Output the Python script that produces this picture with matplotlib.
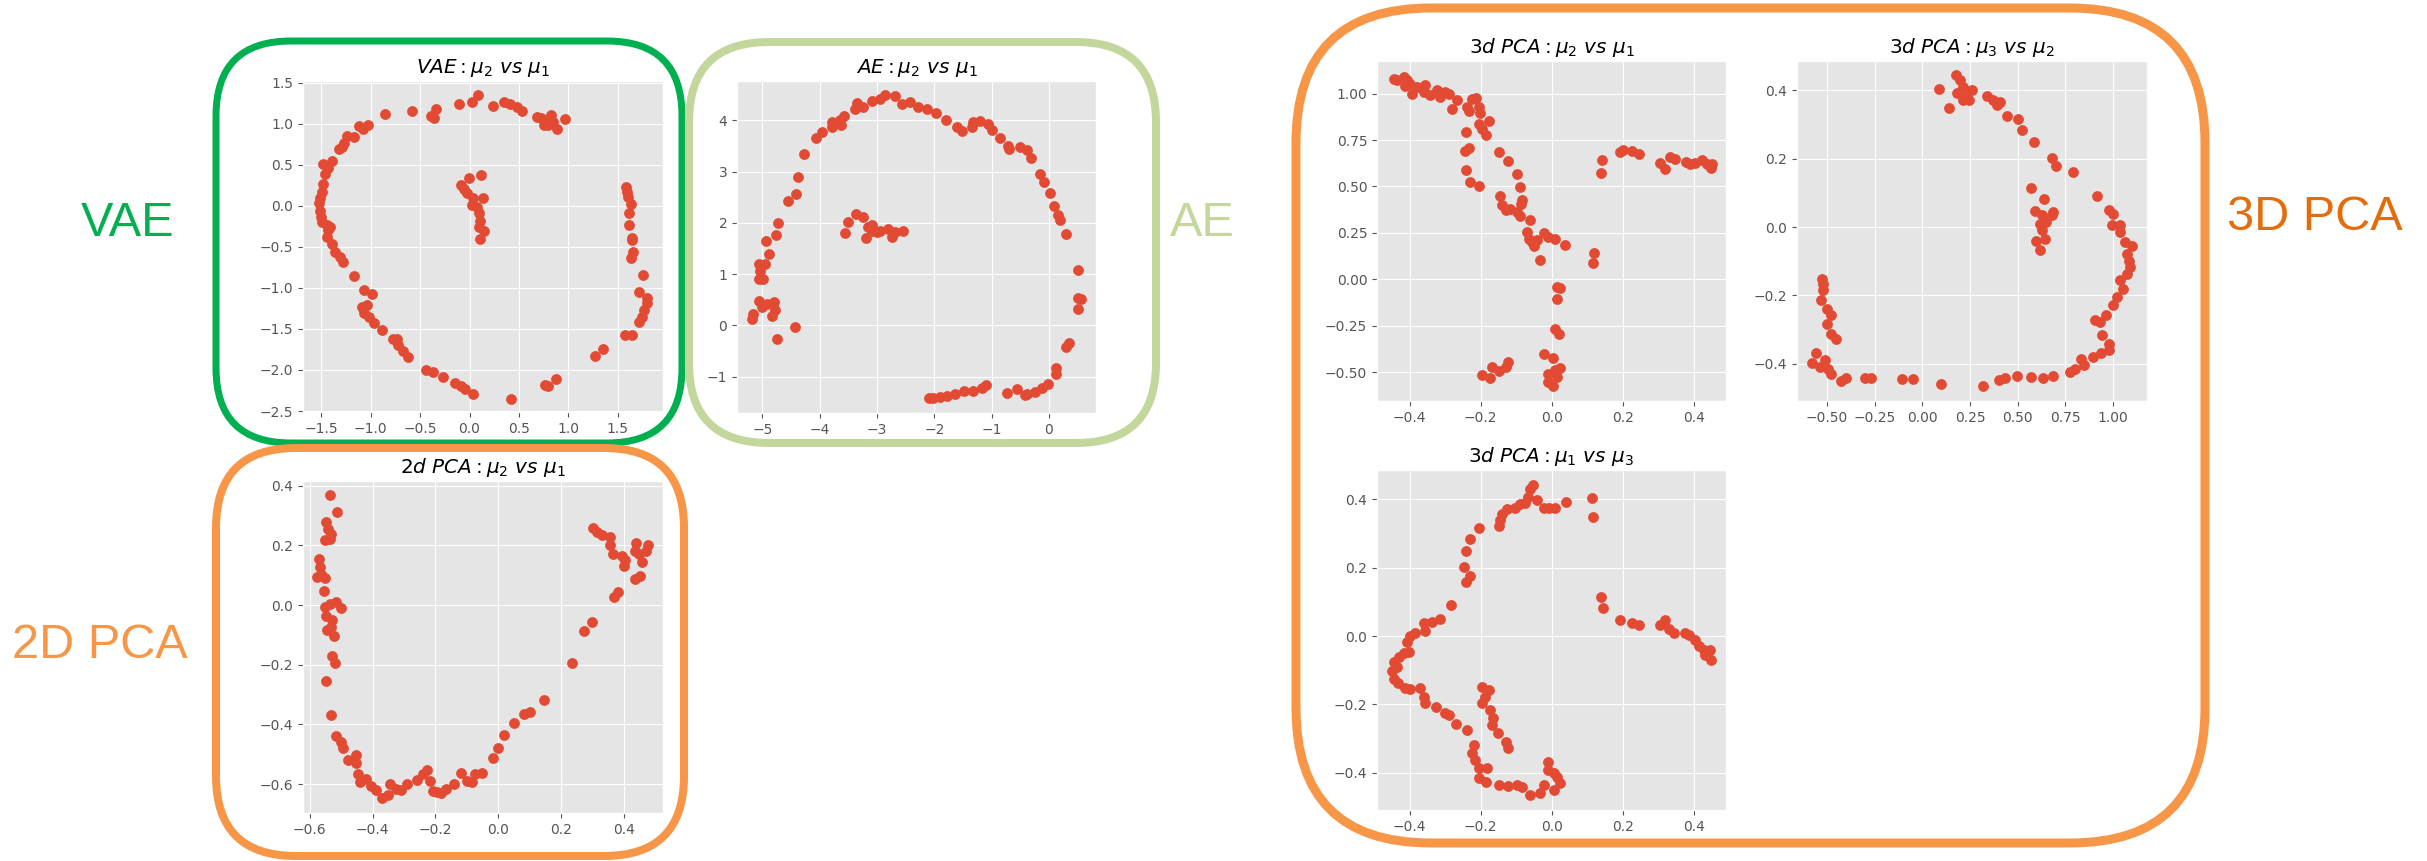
import matplotlib.pyplot as plt
from matplotlib.patches import FancyBboxPatch

plt.style.use('ggplot')

# VAE latent means
vae_mu1 = [-0.86, -0.58, -0.34, -0.39, -0.36, -0.11, 0.03, 0.09, 0.24, 0.35, 0.41, 0.48, 0.53,
           0.72, 0.77, 0.82, 0.79, 0.85, 0.89, 0.97, 0.75, 0.68,
           -1.03, -1.12, -1.08, -1.24, -1.17, -1.27, -1.32, -1.29, -1.39, -1.48, -1.43, -1.46,
           -1.48, -1.49, -1.51, -1.52, -1.51, -1.50, -1.49, -1.44, -1.41, -1.43, -1.44, -1.39,
           -1.36, -1.31, -1.28, -1.17, -1.07, -0.99, -1.09, -1.04, -1.07, -1.02, -0.97, -0.89,
           -0.77, -0.73, -0.72, -0.67, -0.62,
           -0.44, -0.37, -0.27, -0.15, -0.09, -0.05, 0.04, 0.42, 0.76, 0.79, 0.88, 1.27, 1.35,
           1.57, 1.65, 1.72, 1.75, 1.77, 1.80, 1.80, 1.72, 1.76, 1.64, 1.66, 1.65, 1.65, 1.61,
           1.61, 1.63, 1.60, 1.59, 1.58,
           0.12, -0.01, -0.09, -0.06, -0.03, 0.04, 0.14, 0.03, 0.08, 0.10, 0.11, 0.10, 0.15, 0.11]
vae_mu2 = [1.12, 1.16, 1.18, 1.09, 1.07, 1.24, 1.27, 1.35, 1.22, 1.26, 1.24, 1.20, 1.16,
           1.07, 1.04, 1.10, 0.98, 1.02, 0.93, 1.06, 0.98, 1.08,
           0.99, 0.97, 0.93, 0.85, 0.84, 0.76, 0.69, 0.72, 0.55, 0.51, 0.46, 0.39,
           0.26, 0.17, 0.09, 0.03, -0.06, -0.14, -0.20, -0.24, -0.26, -0.30, -0.38, -0.46,
           -0.56, -0.62, -0.69, -0.86, -1.02, -1.07, -1.23, -1.21, -1.31, -1.36, -1.43, -1.51,
           -1.62, -1.62, -1.70, -1.77, -1.84,
           -2.00, -2.03, -2.09, -2.16, -2.20, -2.23, -2.29, -2.35, -2.18, -2.20, -2.11, -1.83, -1.75,
           -1.57, -1.58, -1.42, -1.36, -1.27, -1.19, -1.12, -1.05, -0.84, -0.64, -0.56, -0.42, -0.39, -0.24,
           -0.09, 0.02, 0.11, 0.17, 0.23,
           0.37, 0.34, 0.25, 0.20, 0.15, 0.09, 0.09, 0.01, -0.02, -0.09, -0.18, -0.26, -0.31, -0.40]

# AE latent means
ae_mu1 = [-5.18, -5.16, -5.05, -5.01, -4.92, -4.80, -4.78, -4.83, -4.74, -4.43,
          -5.06, -4.99, -5.04, -5.06, -4.95, -4.89, -4.94, -4.76, -4.73, -4.55, -4.41, -4.38,
          -4.27, -4.07, -3.96, -3.79, -3.79, -3.64, -3.58, -3.62,
          -3.38, -3.35, -3.25, -3.09, -2.94, -2.86, -2.68, -2.57, -2.42, -2.28, -2.13, -1.97,
          -1.79, -1.61, -1.52, -1.35, -1.33, -1.20, -1.07, -1.00, -0.85, -0.71, -0.69, -0.51,
          -0.39, -0.32,
          -0.15, -0.08, 0.02, 0.09, 0.16, 0.20, 0.29, 0.51, 0.51, 0.56, 0.50, 0.35, 0.29, 0.13,
          0.13, -0.01,
          -0.13, -0.24, -0.39, -0.42, -0.55, -0.74, -1.09, -1.16, -1.32, -1.49, -1.64, -1.78,
          -1.90, -2.02, -2.10,
          -3.55, -3.50, -3.36, -3.25, -3.19, -3.15, -3.09, -3.09, -3.00, -2.94, -2.80, -2.73,
          -2.68, -2.55]
ae_mu2 = [0.13, 0.22, 0.48, 0.36, 0.41, 0.46, 0.31, 0.18, -0.26, -0.04,
          0.91, 0.91, 1.07, 1.20, 1.20, 1.39, 1.65, 1.76, 2.00, 2.43, 2.56, 2.90,
          3.35, 3.66, 3.77, 3.97, 3.87, 4.00, 4.08, 3.92,
          4.23, 4.34, 4.27, 4.38, 4.42, 4.49, 4.47, 4.33, 4.36, 4.27, 4.23, 4.15,
          4.00, 3.87, 3.79, 3.88, 3.97, 3.99, 3.94, 3.82, 3.66, 3.51, 3.45, 3.49,
          3.43, 3.27,
          2.96, 2.80, 2.59, 2.34, 2.15, 2.06, 1.79, 1.09, 0.54, 0.52, 0.32, -0.34, -0.43, -0.84,
          -0.94, -1.14,
          -1.22, -1.30, -1.33, -1.35, -1.25, -1.32, -1.17, -1.22, -1.29, -1.28, -1.33, -1.38,
          -1.40, -1.41, -1.42,
          1.81, 2.02, 2.18, 2.11, 1.71, 1.92, 1.95, 1.85, 1.82, 1.84, 1.89, 1.72,
          1.82, 1.84]

# 2d PCA components
pca2_mu1 = [-0.534, -0.512, -0.549, -0.542, -0.531, -0.552, -0.536, -0.570, -0.568, -0.563,
            -0.552, -0.577, -0.554, -0.552, -0.536, -0.515, -0.499, -0.547, -0.528, -0.545,
            -0.533, -0.523, -0.529, -0.520, -0.547, -0.531,
            -0.515, -0.499, -0.494, -0.478, -0.454, -0.452, -0.446, -0.441, -0.420, -0.404,
            -0.388, -0.369, -0.351, -0.345, -0.324, -0.308, -0.292, -0.260, -0.239, -0.226,
            -0.216, -0.207, -0.194, -0.181, -0.167, -0.141, -0.119, -0.101, -0.085, -0.075,
            -0.053, -0.018, 0.000, 0.019, 0.051, 0.082, 0.101, 0.145,
            0.234, 0.271, 0.297, 0.368, 0.379, 0.435, 0.449, 0.302, 0.313, 0.329, 0.353,
            0.353, 0.363, 0.392, 0.398, 0.403, 0.438, 0.446, 0.456, 0.470, 0.474, 0.435]
pca2_mu2 = [0.368, 0.311, 0.278, 0.256, 0.237, 0.217, 0.221, 0.155, 0.127, 0.105,
            0.092, 0.094, 0.047, -0.007, 0.004, 0.010, -0.009, -0.035, -0.051, -0.085,
            -0.074, -0.104, -0.171, -0.193, -0.253, -0.368,
            -0.440, -0.459, -0.478, -0.518, -0.504, -0.530, -0.565, -0.593, -0.582, -0.608,
            -0.621, -0.646, -0.638, -0.599, -0.616, -0.621, -0.599, -0.585, -0.565, -0.554,
            -0.590, -0.623, -0.627, -0.630, -0.616, -0.599, -0.563, -0.590, -0.593, -0.565,
            -0.563, -0.512, -0.478, -0.435, -0.396, -0.366, -0.359, -0.317,
            -0.193, -0.088, -0.057, 0.027, 0.044, 0.088, 0.096, 0.259, 0.245, 0.234, 0.228,
            0.200, 0.172, 0.166, 0.130, 0.150, 0.208, 0.172, 0.144, 0.181, 0.203, 0.183]

# 3d PCA components
pca3_mu1 = [-0.445, -0.436, -0.417, -0.408, -0.398, -0.412, -0.393, -0.379, -0.356, -0.361,
            -0.342, -0.323, -0.314, -0.300, -0.290, -0.282, -0.267, -0.238, -0.234, -0.224,
            -0.212, -0.206, -0.201, -0.206, -0.196, -0.184, -0.177, -0.240, -0.243, -0.234,
            -0.240, -0.229, -0.206, -0.147, -0.124, -0.098, -0.090, -0.083, -0.086, -0.146,
            -0.139, -0.130, -0.116, -0.099, -0.088, -0.060, -0.069, -0.065, -0.055, -0.051,
            -0.042, -0.023, -0.011, 0.010, 0.038, -0.032, 0.116, 0.118, 0.015, 0.024,
            0.015, 0.008, 0.020, -0.021, 0.004, 0.023, 0.010, -0.011, 0.015, -0.009,
            0.003, -0.196, -0.173, -0.168, -0.149, -0.130, -0.124, 0.142, 0.139, 0.193,
            0.202, 0.226, 0.245, 0.304, 0.320, 0.334, 0.348, 0.377, 0.391, 0.405,
            0.423, 0.437, 0.449, 0.452]
pca3_mu2 = [1.077, 1.075, 1.090, 1.072, 1.054, 1.040, 1.000, 1.036, 1.049, 1.009,
            0.991, 1.018, 0.982, 1.009, 1.000, 0.919, 0.964, 0.928, 0.907, 0.973,
            0.978, 0.928, 0.896, 0.838, 0.811, 0.775, 0.853, 0.793, 0.691, 0.709,
            0.587, 0.524, 0.502, 0.686, 0.637, 0.569, 0.497, 0.425, 0.407, 0.447,
            0.398, 0.371, 0.380, 0.362, 0.339, 0.321, 0.255, 0.219, 0.201, 0.177,
            0.210, 0.249, 0.228, 0.215, 0.183, 0.102, 0.087, 0.143, -0.042, -0.047,
            -0.105, -0.270, -0.297, -0.401, -0.423, -0.477, -0.491, -0.512, -0.527, -0.554,
            -0.575, -0.518, -0.530, -0.473, -0.494, -0.473, -0.446, 0.641, 0.572, 0.686,
            0.695, 0.691, 0.677, 0.626, 0.592, 0.659, 0.650, 0.632, 0.623, 0.626,
            0.644, 0.623, 0.601, 0.619]

# mu3 vs mu2 panel
pb_mu2 = [0.176, 0.197, 0.085, 0.141, 0.180, 0.215, 0.233, 0.259, 0.215, 0.246,
          0.338, 0.373, 0.390, 0.408, 0.443, 0.504, 0.525, 0.588, 0.679, 0.702,
          0.793, 0.919, 0.977, 1.003, 0.995, 1.035, 1.038, 1.065, 1.100, 1.074,
          1.082, 1.091, 1.074, 1.038, 1.052, 1.021, 1.003, 0.965, 0.907, 0.933,
          0.942, 0.977, 0.977, 0.937, 0.895, 0.832, 0.846, 0.802, 0.775, 0.688,
          0.635, 0.571, 0.495, 0.434, 0.404, 0.320, 0.098, -0.048, -0.106, -0.272,
          -0.302, -0.402, -0.425, -0.477, -0.512, -0.495, -0.539, -0.577, -0.556, -0.451,
          -0.477, -0.500, -0.482, -0.498, -0.530, -0.521, -0.521, -0.525,
          0.571, 0.641, 0.592, 0.627, 0.688, 0.679, 0.650, 0.618, 0.627, 0.644, 0.597, 0.615]
pb_mu3 = [0.444, 0.429, 0.405, 0.349, 0.392, 0.410, 0.395, 0.400, 0.373, 0.371,
          0.385, 0.373, 0.356, 0.366, 0.324, 0.317, 0.285, 0.249, 0.203, 0.178,
          0.160, 0.090, 0.051, 0.039, 0.005, 0.005, -0.015, -0.044, -0.054, -0.078,
          -0.098, -0.117, -0.137, -0.156, -0.180, -0.205, -0.229, -0.256, -0.273, -0.278,
          -0.317, -0.341, -0.361, -0.369, -0.380, -0.385, -0.405, -0.415, -0.424, -0.437,
          -0.441, -0.439, -0.437, -0.441, -0.447, -0.466, -0.460, -0.444, -0.446, -0.441,
          -0.441, -0.441, -0.451, -0.429, -0.390, -0.415, -0.410, -0.397, -0.369, -0.327,
          -0.312, -0.285, -0.256, -0.239, -0.213, -0.183, -0.166, -0.151,
          0.115, 0.081, 0.046, 0.034, 0.044, 0.034, 0.015, 0.010, -0.010, -0.034, -0.041, -0.068]

# mu1 vs mu3 panel
pc_mu3 = [-0.053, -0.060, -0.068, -0.041, -0.074, -0.088, -0.102, -0.126, -0.141, -0.145,
          -0.147, -0.023, -0.008, 0.010, 0.039, 0.114, 0.116, -0.206, -0.229, -0.241,
          -0.246, -0.231, -0.241, -0.283, -0.315, -0.337, -0.361, -0.356, -0.384, -0.398,
          -0.408, -0.403, -0.417, -0.431, -0.443, -0.437, -0.449, -0.445, -0.434, -0.412,
          -0.398, -0.372, -0.361, -0.356, -0.326, -0.300, -0.288, -0.269, -0.238, -0.220,
          -0.224, -0.215, -0.206, -0.183, -0.206, -0.184, -0.149, -0.124, -0.098, -0.084,
          -0.060, -0.034, -0.023, -0.009, -0.009, 0.006, 0.015, 0.024, 0.006,
          -0.196, -0.177, -0.189, -0.196, -0.173, -0.165, -0.168, -0.151, -0.130, -0.124,
          0.140, 0.145, 0.193, 0.226, 0.245, 0.304, 0.320, 0.330, 0.344, 0.375,
          0.386, 0.405, 0.414, 0.428, 0.445, 0.432, 0.449]
pc_mu1 = [0.442, 0.429, 0.406, 0.398, 0.390, 0.386, 0.374, 0.371, 0.357, 0.340,
          0.322, 0.374, 0.374, 0.374, 0.391, 0.405, 0.349, 0.317, 0.284, 0.249,
          0.203, 0.176, 0.159, 0.091, 0.049, 0.042, 0.037, 0.016, 0.008, 0.000,
          -0.017, -0.046, -0.049, -0.060, -0.075, -0.090, -0.101, -0.127, -0.137, -0.153,
          -0.156, -0.153, -0.178, -0.197, -0.209, -0.226, -0.231, -0.256, -0.275, -0.319,
          -0.343, -0.363, -0.387, -0.387, -0.414, -0.426, -0.436, -0.439, -0.436, -0.441,
          -0.465, -0.459, -0.436, -0.368, -0.392, -0.402, -0.411, -0.431, -0.451,
          -0.150, -0.158, -0.178, -0.197, -0.215, -0.241, -0.260, -0.285, -0.309, -0.329,
          0.113, 0.081, 0.047, 0.037, 0.032, 0.032, 0.047, 0.020, 0.008, 0.010,
          0.003, -0.012, -0.029, -0.041, -0.041, -0.056, -0.070]

W, H = 2427, 861
fig = plt.figure(figsize=(W / 100, H / 100), dpi=100)


def px_axes(left, top, right, bottom):
    return fig.add_axes([left / W, 1 - bottom / H, (right - left) / W, (bottom - top) / H])


# background layer for the rounded frames and group labels
bg = fig.add_axes([0, 0, 1, 1], zorder=-1)
bg.set_xlim(0, W)
bg.set_ylim(H, 0)
bg.axis('off')

frames = [
    (216, 41, 682, 443, 75, 7, '#00B050'),
    (689, 42, 1156, 443, 80, 8, '#C3D69B'),
    (216, 448, 684, 856, 80, 8, '#F79646'),
    (1296, 8, 2205, 843, 135, 9, '#F79646'),
]
for x0, y0, x1, y1, r, lw, col in frames:
    bg.add_patch(FancyBboxPatch((x0, y0), x1 - x0, y1 - y0,
                                boxstyle=f"round,pad=0,rounding_size={r}",
                                fill=False, edgecolor=col, linewidth=lw * 0.72))

label_font = dict(fontsize=35, family='Liberation Sans', ha='center', va='center')
bg.text(128, 223, 'VAE', color='#00B050', **label_font)
bg.text(1202, 223, 'AE', color='#C3D69B', **label_font)
bg.text(100, 646, '2D PCA', color='#F79646', **label_font)
bg.text(2315, 218, '3D PCA', color='#E46C0A', **label_font)

S = 52

ax = px_axes(303, 81, 663, 412)
ax.scatter(vae_mu1, vae_mu2, s=S)
ax.set_xlim(-1.686, 1.959)
ax.set_ylim(-2.512, 1.52)
ax.set_title(r'$VAE: \mu_2\ vs\ \mu_1$')

ax = px_axes(737, 81, 1096, 413)
ax.scatter(ae_mu1, ae_mu2, s=S)
ax.set_xlim(-5.44, 0.82)
ax.set_ylim(-1.71, 4.77)
ax.set_title(r'$AE: \mu_2\ vs\ \mu_1$')

ax = px_axes(303, 481, 663, 813)
ax.scatter(pca2_mu1, pca2_mu2, s=S)
ax.set_xlim(-0.621, 0.523)
ax.set_ylim(-0.697, 0.416)
ax.set_title(r'$2d\ PCA: \mu_2\ vs\ \mu_1$')

ax = px_axes(1377, 61, 1726, 401)
ax.scatter(pca3_mu1, pca3_mu2, s=S)
ax.set_xlim(-0.492, 0.491)
ax.set_ylim(-0.656, 1.176)
ax.set_title(r'$3d\ PCA: \mu_2\ vs\ \mu_1$')

ax = px_axes(1797, 61, 2147, 401)
ax.scatter(pb_mu2, pb_mu3, s=S)
ax.set_xlim(-0.658, 1.179)
ax.set_ylim(-0.509, 0.486)
ax.set_title(r'$3d\ PCA: \mu_3\ vs\ \mu_2$')

ax = px_axes(1377, 470, 1726, 810)
ax.scatter(pc_mu3, pc_mu1, s=S)
ax.set_xlim(-0.492, 0.491)
ax.set_ylim(-0.509, 0.486)
ax.set_title(r'$3d\ PCA: \mu_1\ vs\ \mu_3$')

fig.savefig('out.png', dpi=100)
